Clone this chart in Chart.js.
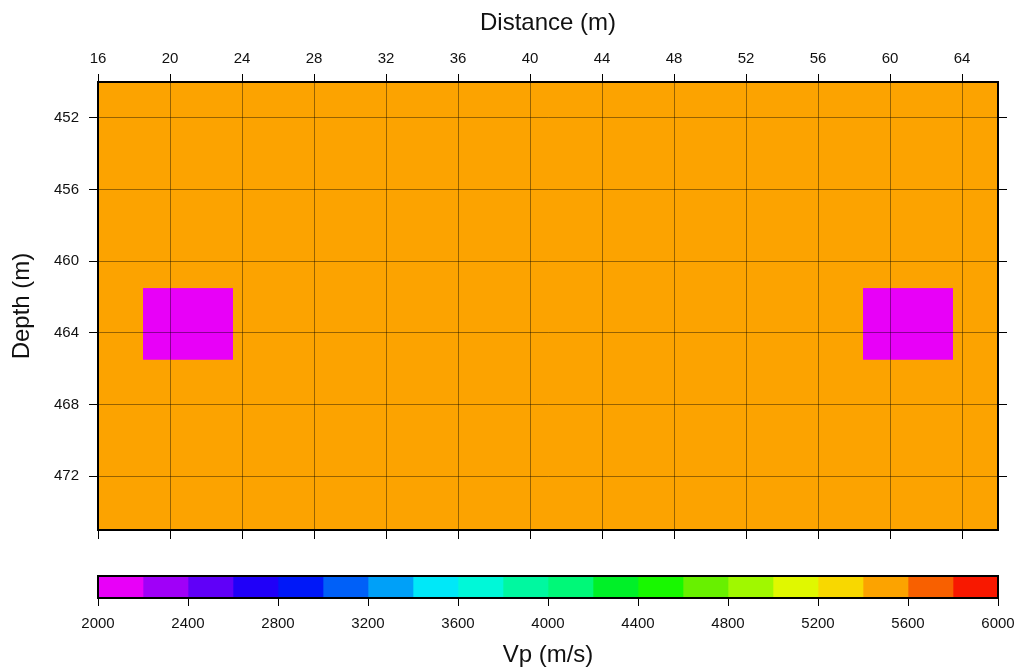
<!DOCTYPE html>
<html>
<head>
<meta charset="utf-8">
<script src="https://cdn.jsdelivr.net/npm/chart.js@4.4.0/dist/chart.umd.min.js"></script>
<style>
  html, body { margin: 0; padding: 0; background: #fff; }
  #wrap { position: relative; width: 1017px; height: 672px; }
  canvas { position: absolute; left: 0; }
  #mainChart { top: 0; }
  #barChart { top: 560px; }
</style>
</head>
<body>
<div id="wrap">
  <canvas id="mainChart" width="1017" height="560"></canvas>
  <canvas id="barChart" width="1017" height="112"></canvas>
</div>
<script>
// Axis ranges and ticks
const distanceRange = [16, 66];
const depthRange = [450, 475];
const distanceTicks = [16, 20, 24, 28, 32, 36, 40, 44, 48, 52, 56, 60, 64];
const depthTicks = [452, 456, 460, 464, 468, 472];

// Velocity model
const backgroundVp = 5500;
const anomalyDistance = [[18.5, 23.5], [58.5, 63.5]];
const anomalyDepth = [[461.5, 465.5], [461.5, 465.5]];
const anomalyVp = [2100, 2100];

// Colour scale
const vpLevels = [2000, 2200, 2400, 2600, 2800, 3000, 3200, 3400, 3600, 3800, 4000,
                  4200, 4400, 4600, 4800, 5000, 5200, 5400, 5600, 5800, 6000];
const vpColors = [
    'rgb(232,0,248)', 'rgb(160,0,248)', 'rgb(96,0,248)', 'rgb(32,0,248)', 'rgb(0,24,248)',
    'rgb(0,96,248)', 'rgb(0,160,248)', 'rgb(0,232,248)', 'rgb(0,248,216)', 'rgb(0,248,160)',
    'rgb(0,248,120)', 'rgb(0,240,40)', 'rgb(24,248,0)', 'rgb(104,240,0)', 'rgb(160,248,0)',
    'rgb(224,248,0)', 'rgb(248,216,0)', 'rgb(252,163,0)', 'rgb(248,96,0)', 'rgb(248,24,0)'
];
const vpTicks = [2000, 2400, 2800, 3200, 3600, 4000, 4400, 4800, 5200, 5600, 6000];

const FONT = "'Liberation Sans', Arial, Helvetica, sans-serif";
Chart.defaults.font.family = FONT;
Chart.defaults.color = '#111';

const gridColor = 'rgba(0,0,0,0.4)';
const tickFont = { size: 15 };
const titleFont = { size: 24 };
const plain = v => String(v);

function fixTicks(values) {
    return scale => { scale.ticks = values.map(v => ({ value: v })); };
}

function vpColor(v) {
    for (let i = 0; i < vpColors.length; i++) {
        if (v < vpLevels[i + 1]) return vpColors[i];
    }
    return vpColors[vpColors.length - 1];
}

// Draw model cells through the chart scales
const cellPlugin = {
    id: 'cells',
    beforeDatasetsDraw(chart) {
        const { ctx, scales: { x, y } } = chart;
        const rect = (xr, yr, color) => {
            const x0 = x.getPixelForValue(xr[0]), x1 = x.getPixelForValue(xr[1]);
            const y0 = y.getPixelForValue(yr[0]), y1 = y.getPixelForValue(yr[1]);
            ctx.fillStyle = color;
            ctx.fillRect(Math.min(x0, x1), Math.min(y0, y1), Math.abs(x1 - x0), Math.abs(y1 - y0));
        };
        ctx.save();
        rect(distanceRange, depthRange, vpColor(backgroundVp));
        anomalyDistance.forEach((d, i) => rect(d, anomalyDepth[i], vpColor(anomalyVp[i])));
        ctx.restore();
    }
};

// Main section plot
new Chart(document.getElementById('mainChart'), {
    type: 'scatter',
    data: { datasets: [] },
    options: {
        responsive: false,
        animation: false,
        layout: { padding: 0 },
        plugins: { legend: { display: false }, tooltip: { enabled: false } },
        scales: {
            x: {
                type: 'linear', position: 'top',
                min: distanceRange[0], max: distanceRange[1],
                afterBuildTicks: fixTicks(distanceTicks),
                afterFit: s => { s.height = 82; },
                ticks: { font: tickFont, padding: 6, maxRotation: 0, autoSkip: false, color: '#111', callback: plain },
                grid: { color: gridColor, lineWidth: 1, tickLength: 8, tickColor: '#000', z: 1 },
                border: { color: '#000', width: 2, z: 2 },
                title: { display: true, text: 'Distance (m)', font: titleFont, color: '#111', padding: { top: 9 } }
            },
            xb: {
                type: 'linear', position: 'bottom',
                min: distanceRange[0], max: distanceRange[1],
                afterBuildTicks: fixTicks(distanceTicks),
                afterFit: s => { s.height = 30; },
                ticks: { display: false },
                grid: { drawOnChartArea: false, tickLength: 9, tickColor: '#000' },
                border: { color: '#000', width: 2, z: 2 }
            },
            y: {
                type: 'linear', position: 'left', reverse: true,
                min: depthRange[0], max: depthRange[1],
                afterBuildTicks: fixTicks(depthTicks),
                afterFit: s => { s.width = 98; },
                ticks: { font: tickFont, padding: 10, autoSkip: false, color: '#111', callback: plain },
                grid: { color: gridColor, lineWidth: 1, tickLength: 9, tickColor: '#000', z: 1 },
                border: { color: '#000', width: 2, z: 2 },
                title: { display: true, text: 'Depth (m)', font: titleFont, color: '#111', padding: { top: 8 } }
            },
            yr: {
                type: 'linear', position: 'right', reverse: true,
                min: depthRange[0], max: depthRange[1],
                afterBuildTicks: fixTicks(depthTicks),
                afterFit: s => { s.width = 19; },
                ticks: { display: false },
                grid: { drawOnChartArea: false, tickLength: 9, tickColor: '#000' },
                border: { color: '#000', width: 2, z: 2 }
            }
        }
    },
    plugins: [cellPlugin]
});

// Frame round the colour bar
const framePlugin = {
    id: 'frame',
    afterDatasetsDraw(chart) {
        const { ctx, chartArea: a } = chart;
        ctx.save();
        ctx.strokeStyle = '#000';
        ctx.lineWidth = 2;
        ctx.strokeRect(a.left, a.top, a.right - a.left, a.bottom - a.top);
        ctx.restore();
    }
};

// Colour bar
new Chart(document.getElementById('barChart'), {
    type: 'bar',
    data: {
        labels: ['Vp'],
        datasets: vpColors.map((c, i) => ({
            data: [[vpLevels[i], vpLevels[i + 1]]],
            backgroundColor: c,
            borderWidth: 0,
            grouped: false,
            barPercentage: 1,
            categoryPercentage: 1
        }))
    },
    options: {
        indexAxis: 'y',
        responsive: false,
        animation: false,
        layout: { padding: { left: 98, right: 19, top: 16, bottom: 0 } },
        plugins: { legend: { display: false }, tooltip: { enabled: false } },
        scales: {
            x: {
                type: 'linear', position: 'bottom',
                min: vpLevels[0], max: vpLevels[vpLevels.length - 1],
                afterBuildTicks: fixTicks(vpTicks),
                afterFit: s => { s.height = 74; s.paddingLeft = 0; s.paddingRight = 0; },
                ticks: { font: tickFont, padding: 9, maxRotation: 0, autoSkip: false, color: '#111', callback: plain },
                grid: { drawOnChartArea: false, tickLength: 8, tickColor: '#000' },
                border: { display: false },
                title: { display: true, text: 'Vp (m/s)', font: titleFont, color: '#111', padding: { bottom: 2 } }
            },
            y: { display: false }
        }
    },
    plugins: [framePlugin]
});
</script>
</body>
</html>
